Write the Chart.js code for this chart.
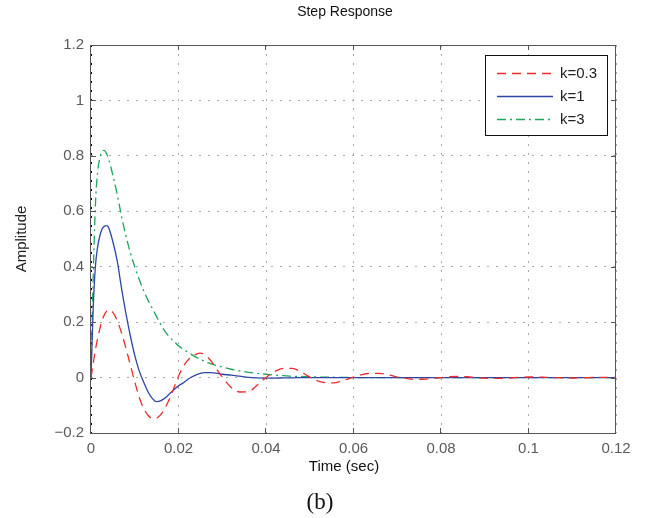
<!DOCTYPE html>
<html>
<head>
<meta charset="utf-8">
<script src="https://cdn.jsdelivr.net/npm/chart.js@4/dist/chart.umd.min.js"></script>
<style>
  body { margin: 0; background: #fff; }
  #wrap { width: 651px; height: 518px; }
</style>
</head>
<body>
<div id="wrap"><canvas id="myChart" width="651" height="518"></canvas></div>
<script>
'use strict';

// time axis (sec)
const timeSec = [
  0, 0.0005, 0.001, 0.0015, 0.002, 0.0025, 0.003, 0.0035, 0.004,
  0.005, 0.006, 0.007, 0.008, 0.009, 0.010, 0.011, 0.012, 0.013, 0.014,
  0.015, 0.016, 0.017, 0.018, 0.019, 0.020, 0.021, 0.022, 0.023, 0.024,
  0.025, 0.026, 0.027, 0.028, 0.029, 0.030,
  0.032, 0.034, 0.036, 0.038, 0.040, 0.042, 0.044, 0.046, 0.048, 0.050,
  0.052, 0.054, 0.056, 0.058, 0.060, 0.062, 0.064, 0.066, 0.068, 0.070,
  0.072, 0.074, 0.076, 0.078, 0.080, 0.082, 0.084, 0.086, 0.088, 0.090,
  0.092, 0.094, 0.096, 0.098, 0.100, 0.102, 0.104, 0.106, 0.108, 0.110,
  0.112, 0.114, 0.116, 0.118, 0.120
];

const respK03 = [
  0, 0.05, 0.10, 0.14, 0.175, 0.205, 0.225, 0.238, 0.244,
  0.235, 0.205, 0.16, 0.105, 0.045, -0.015, -0.07, -0.11, -0.135, -0.147,
  -0.146, -0.133, -0.108, -0.075, -0.035, 0.005, 0.037, 0.06, 0.075, 0.084,
  0.088, 0.083, 0.068, 0.048, 0.024, 0.002,
  -0.035, -0.052, -0.051, -0.027, 0.0, 0.022, 0.033, 0.033, 0.02, 0.002,
  -0.013, -0.019, -0.018, -0.009, 0.002, 0.011, 0.015, 0.015, 0.01, 0.002,
  -0.003, -0.006, -0.006, -0.003, 0.0, 0.003, 0.004, 0.003, 0.0, -0.002,
  -0.003, -0.003, -0.001, 0.001, 0.002, 0.002, 0.001, 0, -0.001, -0.0015,
  -0.001, 0, 0.001, 0.001, 0.0005
];

const respK1 = [
  0, 0.25, 0.40, 0.47, 0.51, 0.535, 0.545, 0.548, 0.542,
  0.49, 0.42, 0.32, 0.23, 0.15, 0.08, 0.025, -0.015, -0.05, -0.075,
  -0.087, -0.083, -0.073, -0.058, -0.043, -0.03, -0.02, -0.008, 0.002, 0.01,
  0.015, 0.018, 0.018, 0.017, 0.015, 0.012,
  0.009, 0.005, 0.001, -0.001, -0.002, -0.002, -0.001, -0.001, 0, 0,
  0, 0, 0, 0, 0, 0, 0, 0, 0, 0,
  0, 0, 0, 0, 0, 0, 0, 0, 0, 0,
  0, 0, 0, 0, 0, 0, 0, 0, 0, 0,
  0, 0, 0, 0, 0
];

const respK3 = [
  0, 0.36, 0.62, 0.74, 0.79, 0.815, 0.82, 0.81, 0.79,
  0.73, 0.66, 0.58, 0.51, 0.45, 0.40, 0.355, 0.315, 0.28, 0.25,
  0.22, 0.19, 0.165, 0.145, 0.13, 0.115, 0.103, 0.093, 0.083, 0.074,
  0.066, 0.058, 0.052, 0.047, 0.042, 0.038,
  0.03, 0.024, 0.019, 0.015, 0.012, 0.009, 0.007, 0.005, 0.004, 0.003,
  0.002, 0.0015, 0.001, 0.001, 0, 0, 0, 0, 0, 0,
  0, 0, 0, 0, 0, 0, 0, 0, 0, 0,
  0, 0, 0, 0, 0, 0, 0, 0, 0, 0,
  0, 0, 0, 0, 0
];

const seriesLabels = ['k=0.3', 'k=1', 'k=3'];
const xTickLabels = ['0', '0.02', '0.04', '0.06', '0.08', '0.1', '0.12'];
const yTickLabels = ['\u22120.2', '0', '0.2', '0.4', '0.6', '0.8', '1', '1.2'];

const SANS = '"Liberation Sans", Arial, sans-serif';

function pts(vals) {
  return timeSec.map((t, i) => ({ x: t, y: vals[i] }));
}

function gridColor(c) {
  return c.tick && c.tick.value === 0 ? '#000' : '#a8a8a8';
}

// box, inward ticks, titles and the boxed legend
const frame = {
  id: 'frame',
  afterDraw(chart) {
    const { ctx, chartArea: a, scales } = chart;
    ctx.save();
    ctx.setLineDash([]);
    ctx.strokeStyle = '#555';
    ctx.lineWidth = 1;
    ctx.strokeRect(a.left - 0.5, a.top + 0.5, a.right - a.left, a.bottom - a.top);

    ctx.beginPath();
    scales.x.ticks.forEach(t => {
      const px = Math.round(scales.x.getPixelForValue(t.value)) - 0.5;
      ctx.moveTo(px, a.bottom); ctx.lineTo(px, a.bottom - 5);
      ctx.moveTo(px, a.top); ctx.lineTo(px, a.top + 5);
    });
    scales.y.ticks.forEach(t => {
      const py = Math.round(scales.y.getPixelForValue(t.value)) + 0.5;
      ctx.moveTo(a.left, py); ctx.lineTo(a.left + 5, py);
      ctx.moveTo(a.right, py); ctx.lineTo(a.right - 5, py);
    });
    ctx.stroke();

    // texts
    ctx.fillStyle = '#111';
    ctx.textAlign = 'center';
    ctx.textBaseline = 'middle';
    ctx.font = '14px ' + SANS;
    ctx.fillText('Step Response', 345, 12);
    ctx.font = '15px ' + SANS;
    ctx.fillText('Time (sec)', 344, 467);
    ctx.font = '23px "Liberation Serif", "Times New Roman", serif';
    ctx.fillText('(b)', 320, 503);

    // legend
    const lx = 485, ly = 55, lw = 122, lh = 80;
    ctx.fillStyle = '#fff';
    ctx.fillRect(lx, ly, lw, lh);
    ctx.strokeStyle = '#111';
    ctx.strokeRect(lx + 0.5, ly + 0.5, lw, lh);
    ctx.font = '15px ' + SANS;
    ctx.textAlign = 'left';
    chart.data.datasets.forEach((ds, i) => {
      const yy = ly + 18 + i * 23;
      ctx.strokeStyle = ds.borderColor;
      ctx.lineWidth = ds.borderWidth;
      ctx.setLineDash(ds.borderDash || []);
      ctx.beginPath();
      ctx.moveTo(lx + 12, yy + 0.5);
      ctx.lineTo(lx + 68, yy + 0.5);
      ctx.stroke();
      ctx.fillStyle = '#222';
      ctx.fillText(ds.label, lx + 75, yy + 1);
    });
    ctx.restore();
  }
};

const ctx = document.getElementById('myChart').getContext('2d');

const myChart = new Chart(ctx, {
  type: 'line',
  data: {
    datasets: [{
      label: seriesLabels[0],
      data: pts(respK03),
      borderColor: '#ec2b2b',
      borderWidth: 1.3,
      borderDash: [9, 6]
    }, {
      label: seriesLabels[1],
      data: pts(respK1),
      borderColor: '#2f46a6',
      borderWidth: 1.3
    }, {
      label: seriesLabels[2],
      data: pts(respK3),
      borderColor: '#1ea65a',
      borderWidth: 1.3,
      borderDash: [9, 4, 2, 4]
    }]
  },
  options: {
    responsive: false,
    animation: false,
    devicePixelRatio: 1,
    layout: { padding: { left: 0, top: 45, right: 35, bottom: 0 } },
    elements: {
      point: { radius: 0 },
      line: { cubicInterpolationMode: 'monotone', fill: false }
    },
    plugins: {
      legend: { display: false },
      tooltip: { enabled: false }
    },
    scales: {
      x: {
        type: 'linear',
        min: 0,
        max: 0.12,
        ticks: {
          stepSize: 0.02,
          padding: 7,
          color: '#5a5a5a',
          font: { family: SANS, size: 15 },
          callback: (v, i) => xTickLabels[i]
        },
        grid: { color: gridColor, drawTicks: false, lineWidth: 1 },
        border: { display: false, dash: [2, 7] },
        afterFit: s => { s.height = 85; }
      },
      y: {
        min: -0.2,
        max: 1.2,
        ticks: {
          stepSize: 0.2,
          padding: 7,
          color: '#5a5a5a',
          font: { family: SANS, size: 15 },
          callback: (v, i) => yTickLabels[i]
        },
        grid: { color: gridColor, drawTicks: false, lineWidth: 1 },
        border: { display: false, dash: [2, 7] },
        title: {
          display: true,
          text: 'Amplitude',
          color: '#222',
          font: { family: SANS, size: 15 },
          padding: { top: 13, bottom: 0 }
        },
        afterFit: s => { s.width = 91; }
      }
    }
  },
  plugins: [frame]
});
</script>
</body>
</html>
